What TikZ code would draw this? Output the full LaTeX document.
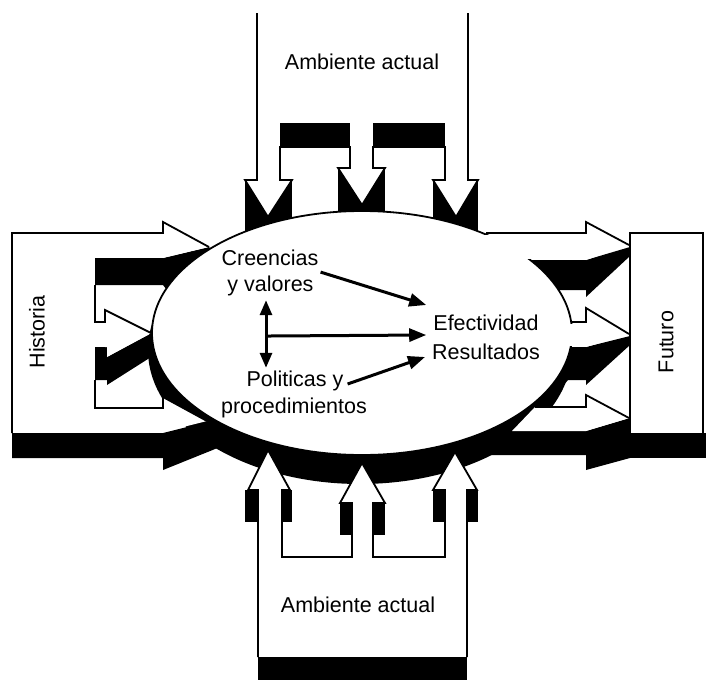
\documentclass[tikz,border=0pt]{standalone}
\usepackage{fontspec}
\setmainfont{Liberation Sans}
\usetikzlibrary{arrows.meta}

\begin{document}
\begin{tikzpicture}[x=1pt,y=-1pt,
  outline/.style={line width=1.8pt, line join=miter, line cap=butt},
  ink/.style={fill=black},
  paper/.style={fill=white},
  lbl/.style={font=\fontsize{21.5}{26}\selectfont, inner sep=0pt},
  link/.style={line width=3pt, -{Triangle[length=17pt,width=13pt]}},
  duallink/.style={line width=3pt, {Triangle[length=15pt,width=12pt]}-{Triangle[length=15pt,width=12pt]}},
]
\useasboundingbox (0,0) rectangle (706,680);

% ---- dark band hugging the lower rim of the organisation ellipse
\fill[ink] (360,350) ellipse [x radius=212, y radius=134];

% ---- dark backings of the downward heads (top)
\fill[ink] (245,180) rectangle (292,240);
\fill[ink] (338,168) rectangle (385,225);
\fill[ink] (433,180) rectangle (478,240);

% ---- dark halves of the arrows from the left
\fill[ink] (95,258) -- (163,258) -- (209,247) -- (225,265) -- (175,300) -- (163,285) -- (95,285) -- cycle;
\fill[ink] (95,347) -- (107,347) -- (107,357) -- (152,333) -- (170,345) -- (107,385) -- (107,380) -- (95,380) -- cycle;
\fill[ink] (12,433) -- (163,433) -- (207,422) -- (225,445) -- (163,470) -- (163,458) -- (12,458) -- cycle;

% ---- dark halves of the arrows to the right
\fill[ink] (520,260) -- (586,260) -- (630,247) -- (630,256) -- (586,297) -- (586,290) -- (545,290) -- cycle;
\fill[ink] (540,347) -- (586,347) -- (630,336) -- (630,345) -- (586,385) -- (586,380) -- (568,380) -- (545,407) -- (520,407) -- cycle;
\fill[ink] (480,431) -- (586,431) -- (630,418) -- (630,458) -- (586,470) -- (586,455) -- (480,455) -- cycle;

% ---- bars under the side boxes and the bottom box
\fill[ink] (630,433) rectangle (706,458);
\fill[ink] (258,657) rectangle (467,680);

% ---- shadows beside the upward shafts (bottom)
\fill[ink] (245,490) rectangle (257,522);
\fill[ink] (282,490) rectangle (292,522);
\fill[ink] (340,503) rectangle (352,535);
\fill[ink] (373,503) rectangle (385,535);
\fill[ink] (433,490) rectangle (445,522);
\fill[ink] (467,490) rectangle (478,522);

% ---- the organisation ellipse
\filldraw[paper, draw=black, outline] (362,333) ellipse [x radius=210, y radius=122];
% open the rim where the outgoing shafts leave it
\fill[white] (470,235) rectangle (548,258.5);
\fill[white] (552,324) rectangle (586,345.5);

% ---- top: current environment pressing down
\fill[paper] (245,180) -- (292,180) -- (268,217) -- cycle;
\fill[paper] (338,168) -- (385,168) -- (362,205) -- cycle;
\fill[paper] (433,180) -- (478,180) -- (456,217) -- cycle;
\draw[outline] (257,13) -- (257,180) -- (245,180) -- (268,217) -- (292,180) -- (280,180)
  -- (280,147) -- (350,147) -- (350,168) -- (338,168) -- (362,205) -- (385,168) -- (373,168)
  -- (373,147) -- (445,147) -- (445,180) -- (433,180) -- (456,217) -- (478,180) -- (468,180)
  -- (468,13);
\fill[ink] (280,123) rectangle (350,147);
\fill[ink] (373,123) rectangle (445,147);

% ---- bottom: current environment pushing up
\fill[paper] (248,490) -- (290,490) -- (268,450) -- cycle;
\fill[paper] (340,503) -- (385,503) -- (362,463) -- cycle;
\fill[paper] (433,490) -- (477,490) -- (455,452) -- cycle;
\draw[outline] (258,657) -- (258,490) -- (248,490) -- (268,450) -- (290,490) -- (282,490)
  -- (282,557) -- (352,557) -- (352,503) -- (340,503) -- (362,463) -- (385,503) -- (373,503)
  -- (373,557) -- (445,557) -- (445,490) -- (433,490) -- (455,452) -- (477,490) -- (467,490)
  -- (467,657);

% ---- left: history flowing in
\fill[paper] (163,222) -- (209,247) -- (163,258) -- cycle;
\fill[paper] (105,310) -- (151,333) -- (107,357) -- (107,347) -- (105,347) -- cycle;
\fill[paper] (163,397) -- (207,421) -- (163,432) -- cycle;
\draw[outline] (209,247) -- (163,222) -- (163,233) -- (12,233) -- (12,433);
\draw[outline] (95,285) -- (95,322) -- (105,322) -- (105,310) -- (151,333);
\draw[outline] (95,380) -- (95,408) -- (163,408) -- (163,397) -- (207,421);

% ---- right: flowing out to the future
\fill[paper] (586,222) -- (629,245) -- (586,260) -- cycle;
\fill[paper] (586,308) -- (629,334) -- (586,347) -- cycle;
\fill[paper] (535,407) -- (586,407) -- (586,395) -- (629,418) -- (586,431) -- (512,431) -- cycle;
\draw[outline] (486,233) -- (586,233) -- (586,222) -- (629,245);
\draw[outline] (571,322) -- (586,322) -- (586,308) -- (629,334);
\draw[outline] (535,407) -- (586,407) -- (586,395) -- (629,418);
\draw[outline] (630,433) -- (630,233) -- (703,233) -- (703,433);

% ---- labels
\node[lbl] (envtop) at (362,62) {Ambiente actual};
\node[lbl] (envbot) at (358,605) {Ambiente actual};
\node[lbl, rotate=90] (hist) at (37,332) {Historia};
\node[lbl, rotate=90] (fut) at (666,342) {Futuro};
\node[lbl] (cre1) at (270,258) {Creencias};
\node[lbl] (cre2) at (270.5,286) {y valores};
\node[lbl] (efe) at (486,323) {Efectividad};
\node[lbl] (res) at (486,352) {Resultados};
\node[lbl] (pol1) at (295,381) {Politicas y};
\node[lbl] (pol2) at (294,408) {procedimientos};

% ---- relations inside the organisation
\coordinate (vtop) at ([shift={(-4.5,4)}]cre2.south);
\coordinate (vbot) at ([shift={(-29,-3)}]pol1.north);
\draw[duallink] (vtop) -- (vbot);
\path (vtop) -- (vbot) coordinate[pos=0.53] (junction);
\draw[link] ([shift={(2,6)}]cre1.south east) -- ([shift={(-7,-18)}]efe.west);
\draw[link] (junction) -- ([shift={(-7,12)}]efe.west);
\draw[link] ([shift={(4,3)}]pol1.east) -- ([shift={(-7,5)}]res.west);
\end{tikzpicture}
\end{document}
